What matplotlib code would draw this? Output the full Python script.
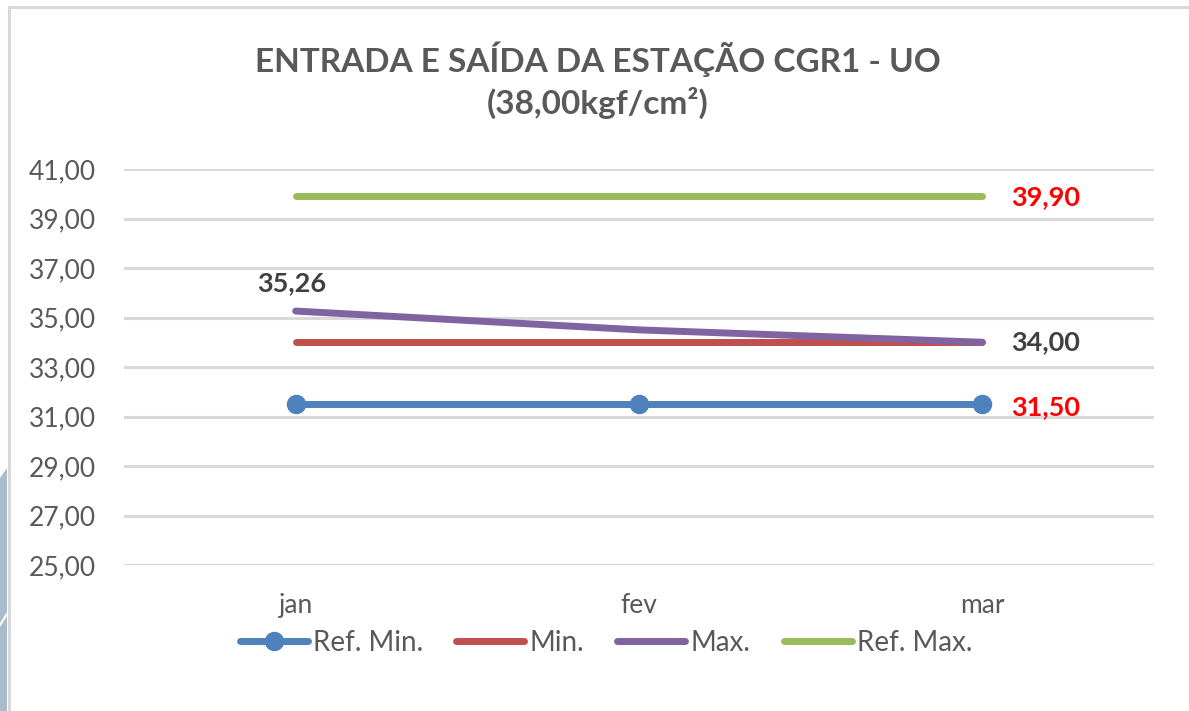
import matplotlib
matplotlib.use("Agg")
import matplotlib.pyplot as plt
from matplotlib.lines import Line2D
from matplotlib.patches import Polygon

months = ["jan", "fev", "mar"]
ref_min = [31.50, 31.50, 31.50]
min_vals = [34.00, 34.00, 34.00]
max_vals = [35.26, 34.50, 34.00]
ref_max = [39.90, 39.90, 39.90]
y_ticks = [25, 27, 29, 31, 33, 35, 37, 39, 41]
title = "ENTRADA E SAÍDA DA ESTAÇÃO CGR1 - UO\n(38,00kgf/cm²)"

FONT = "Lato"
plt.rcParams['font.family'] = [FONT, 'DejaVu Sans']

W, H = 1189, 711
fig = plt.figure(figsize=(W / 100, H / 100), dpi=100)
fig.patch.set_facecolor("white")

# decorative left strip outside the chart border
strip = Polygon([[0, 1 - 478 / H], [7 / W, 1 - 468 / H], [7 / W, 0], [0, 0]],
                closed=True, transform=fig.transFigure, facecolor="#A9BCCB",
                edgecolor="none", zorder=0)
fig.patches.append(strip)
fig.add_artist(Line2D([0, 7 / W], [1 - 625 / H, 1 - 614 / H], transform=fig.transFigure,
                      color="white", lw=1.5, zorder=1))
# chart border (top and left visible)
fig.add_artist(Line2D([9 / W, 1], [1 - 6.5 / H, 1 - 6.5 / H], transform=fig.transFigure,
                      color="#D9D9D9", lw=2.2, zorder=2))
fig.add_artist(Line2D([9 / W, 9 / W], [0, 1 - 6.5 / H], transform=fig.transFigure,
                      color="#D9D9D9", lw=2.2, zorder=2))

left, right = 124 / W, 1154 / W
bottom, top = 1 - 565 / H, 1 - 169 / H
ax = fig.add_axes([left, bottom, right - left, top - bottom])
ax.set_facecolor("none")

x = list(range(len(months)))
lw = 5.0
ax.plot(x, ref_min, color="#4F81BD", lw=lw, marker="o", markersize=13,
        solid_capstyle="round", label="Ref. Min.", clip_on=False, zorder=3)
ax.plot(x, min_vals, color="#C0504D", lw=lw, solid_capstyle="round",
        label="Min.", clip_on=False, zorder=3)
ax.plot(x, max_vals, color="#8064A2", lw=lw, solid_capstyle="round",
        label="Max.", clip_on=False, zorder=4)
ax.plot(x, ref_max, color="#9BBB59", lw=lw, solid_capstyle="round",
        label="Ref. Max.", clip_on=False, zorder=3)

ax.set_xlim(-0.5, len(months) - 0.5)
ax.set_ylim(y_ticks[0], y_ticks[-1])
ax.set_yticks(y_ticks)
ax.set_yticklabels([f"{v:.2f}".replace(".", ",") for v in y_ticks])
ax.set_xticks(x)
ax.set_xticklabels(months)
ax.tick_params(axis="both", length=0, labelsize=19, labelcolor="#595959")
ax.tick_params(axis="y", pad=20)
ax.tick_params(axis="x", pad=20)
ax.grid(axis="y", color="#D9D9D9", lw=2.2)
ax.set_axisbelow(True)
for s in ax.spines.values():
    s.set_visible(False)

def fmt(v):
    return f"{v:.2f}".replace(".", ",")

lab_kw = dict(fontsize=19.5, fontweight="bold", textcoords="offset points")
ax.annotate(fmt(max_vals[0]), (x[0], max_vals[0]), xytext=(-3, 20),
            ha="center", va="center", color="#404040", **lab_kw)
ax.annotate(fmt(max_vals[-1]), (x[-1], max_vals[-1]), xytext=(21, 0),
            ha="left", va="center", color="#404040", **lab_kw)
ax.annotate(fmt(ref_max[-1]), (x[-1], ref_max[-1]), xytext=(21, -1),
            ha="left", va="center", color="#FF0000", **lab_kw)
ax.annotate(fmt(ref_min[-1]), (x[-1], ref_min[-1]), xytext=(21, -2),
            ha="left", va="center", color="#FF0000", **lab_kw)

fig.text(0.503, 1 - 80 / H, title, ha="center", va="center", fontsize=24,
         fontweight="bold", color="#595959", linespacing=1.35)

leg = ax.legend(loc="center", bbox_to_anchor=((606 - 124) / 1030, 1 - (643 - 169) / (565 - 169)),
                ncol=4, frameon=False, fontsize=20, handlelength=2.45,
                handletextpad=0.18, columnspacing=1.2, labelcolor="#595959")

fig.savefig("out.png", dpi=100, facecolor="white")
